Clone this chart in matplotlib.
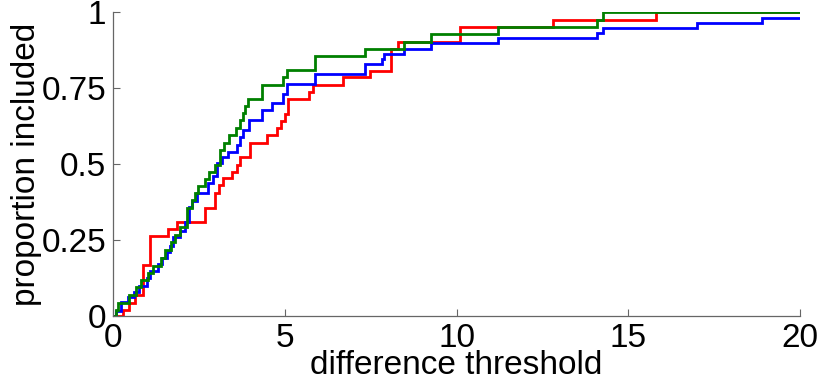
import matplotlib
matplotlib.use("Agg")
import matplotlib.pyplot as plt

# step curves: threshold where each step happens, proportion after the step
RED_X = [0, 0.28, 0.46, 0.64, 0.85, 1.07, 1.60, 1.86, 2.68, 2.97, 3.09, 3.20, 3.46, 3.59,
         3.70, 3.99, 4.47, 4.76, 4.88, 5.00, 5.10, 5.70, 5.81, 6.70, 7.48, 8.10, 8.30,
         10.10, 12.82, 15.81, 20]
RED_Y = [0, 0.020, 0.044, 0.069, 0.168, 0.262, 0.286, 0.310, 0.355, 0.404, 0.431, 0.453,
         0.475, 0.497, 0.525, 0.571, 0.596, 0.618, 0.643, 0.665, 0.714, 0.739, 0.761,
         0.786, 0.808, 0.878, 0.903, 0.951, 0.976, 1.0, 1.0]

BLUE_X = [0, 0.08, 0.21, 0.44, 0.60, 0.75, 0.97, 1.07, 1.31, 1.41, 1.55, 1.65, 1.75, 1.94,
          2.09, 2.19, 2.28, 2.43, 2.77, 2.91, 3.01, 3.16, 3.35, 3.59, 3.69, 3.79, 3.96,
          4.32, 4.61, 4.93, 5.07, 5.88, 7.33, 7.82, 7.88, 8.47, 9.24, 11.21, 14.08,
          14.27, 16.99, 18.90, 20]
BLUE_Y = [0, 0.017, 0.047, 0.064, 0.080, 0.100, 0.125, 0.149, 0.170, 0.190, 0.210, 0.230,
          0.261, 0.280, 0.310, 0.360, 0.380, 0.406, 0.437, 0.460, 0.503, 0.525, 0.541,
          0.563, 0.590, 0.612, 0.645, 0.678, 0.700, 0.730, 0.763, 0.796, 0.829, 0.845,
          0.862, 0.879, 0.898, 0.914, 0.931, 0.947, 0.966, 0.982, 0.982]

GREEN_X = [0, 0.07, 0.15, 0.47, 0.66, 0.80, 1.02, 1.17, 1.38, 1.51, 1.67, 1.80, 1.94, 2.14,
           2.28, 2.38, 2.48, 2.67, 2.80, 2.96, 3.11, 3.22, 3.38, 3.57, 3.69, 3.77, 3.84,
           3.93, 4.32, 4.93, 5.07, 5.87, 7.33, 8.47, 9.24, 11.21, 14.08, 14.27, 20]
GREEN_Y = [0, 0.020, 0.042, 0.069, 0.096, 0.118, 0.140, 0.166, 0.190, 0.217, 0.245, 0.267,
           0.294, 0.355, 0.382, 0.404, 0.428, 0.450, 0.475, 0.497, 0.547, 0.571, 0.596,
           0.618, 0.645, 0.667, 0.691, 0.714, 0.761, 0.786, 0.810, 0.856, 0.878, 0.901,
           0.927, 0.951, 0.976, 1.0, 1.0]

X_TICKS = [0, 5, 10, 15, 20]
Y_TICKS = [0, 0.25, 0.5, 0.75, 1]
Y_TICK_LABELS = ["0", "0.25", "0.5", "0.75", "1"]

plt.rcParams["font.family"] = ["Liberation Sans Narrow", "Liberation Sans", "DejaVu Sans"]

fig = plt.figure(figsize=(8.17, 3.85), dpi=100)
ax = fig.add_axes([0.1387, 0.1792, 0.8405, 0.7888])

for xs, ys, color in [(RED_X, RED_Y, "#ff0000"), (BLUE_X, BLUE_Y, "#0000ff"), (GREEN_X, GREEN_Y, "#008000")]:
    ax.step(xs, ys, where="post", color=color, linewidth=2.0, solid_joinstyle="miter")

ax.set_xlim(0, 20)
ax.set_ylim(0, 1)
ax.set_xticks(X_TICKS)
ax.set_yticks(Y_TICKS)
ax.set_yticklabels(Y_TICK_LABELS)
for side in ["top", "right"]:
    ax.spines[side].set_visible(False)
for side in ["left", "bottom"]:
    ax.spines[side].set_color("0.4")
    ax.spines[side].set_linewidth(0.9)
ax.tick_params(direction="in", length=5, width=0.8, color="0.4", labelsize=24, pad=5)
ax.set_xlabel("difference threshold", fontsize=24, labelpad=-3)
ax.set_ylabel("proportion included", fontsize=24, labelpad=0)

fig.savefig("out.png", dpi=100)
